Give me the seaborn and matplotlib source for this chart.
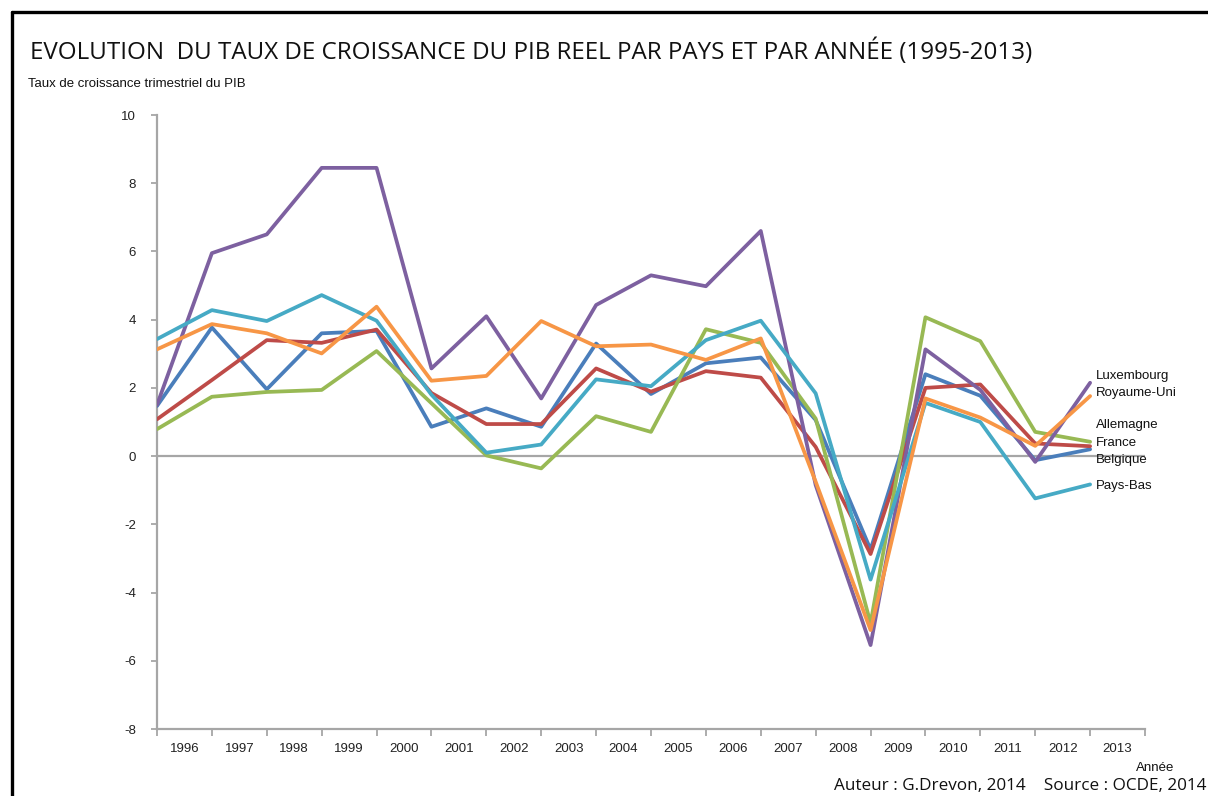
import numpy as np
import pandas as pd
import matplotlib
matplotlib.use('Agg')
import matplotlib.pyplot as plt
from matplotlib.lines import Line2D
from matplotlib.ticker import FixedLocator, NullFormatter
import seaborn as sns

# Données (taux de croissance du PIB, %)
annees = [str(a) for a in range(1996, 2014)]
belgique = [1.47, 3.77, 1.96, 3.6, 3.67, 0.86, 1.4, 0.86, 3.3, 1.82, 2.72, 2.89, 1.06, -2.74, 2.4, 1.77, -0.12, 0.2]
france = [1.08, 2.23, 3.4, 3.32, 3.71, 1.85, 0.94, 0.94, 2.57, 1.89, 2.49, 2.3, 0.27, -2.87, 2.0, 2.1, 0.37, 0.29]
allemagne = [0.79, 1.74, 1.88, 1.94, 3.08, 1.55, 0.02, -0.36, 1.17, 0.71, 3.72, 3.32, 1.1, -4.9, 4.07, 3.37, 0.71, 0.42]
luxembourg = [1.5, 5.95, 6.5, 8.45, 8.45, 2.57, 4.1, 1.69, 4.43, 5.3, 4.98, 6.6, -0.85, -5.54, 3.13, 1.94, -0.17, 2.15]
pays_bas = [3.43, 4.28, 3.96, 4.72, 3.97, 1.8, 0.1, 0.34, 2.25, 2.05, 3.4, 3.97, 1.84, -3.62, 1.56, 1.0, -1.24, -0.83]
royaume_uni = [3.13, 3.87, 3.6, 3.01, 4.38, 2.21, 2.35, 3.96, 3.22, 3.27, 2.82, 3.45, -0.75, -5.1, 1.69, 1.13, 0.3, 1.76]

series = {
    'Belgique': belgique,
    'France': france,
    'Allemagne': allemagne,
    'Luxembourg': luxembourg,
    'Pays-Bas': pays_bas,
    'Royaume-Uni': royaume_uni,
}

couleurs = {
    'Belgique': '#4a7ebb',
    'France': '#be4b48',
    'Allemagne': '#98b954',
    'Luxembourg': '#7d60a0',
    'Pays-Bas': '#46aac5',
    'Royaume-Uni': '#f79646',
}

# position verticale des étiquettes en fin de courbe
etiquettes_y = {
    'Luxembourg': 2.35,
    'Royaume-Uni': 1.85,
    'Allemagne': 0.91,
    'France': 0.38,
    'Belgique': -0.12,
    'Pays-Bas': -0.88,
}

# Tableau long pour seaborn
lignes = []
for pays, valeurs in series.items():
    for i, v in enumerate(valeurs):
        lignes.append({'pos': i, 'taux': v, 'pays': pays})
df = pd.DataFrame(lignes)

sns.set_style('white')
plt.rcParams['font.family'] = ['Liberation Sans', 'DejaVu Sans']

fig = plt.figure(figsize=(12.08, 7.96), dpi=100)
ax = fig.add_axes([157 / 1208, 1 - 729 / 796, (1145 - 157) / 1208, (729 - 115) / 796])

gris = '#a6a6a6'
ax.axhline(0, color=gris, lw=1.6, zorder=1)

sns.lineplot(data=df, x='pos', y='taux', hue='pays', palette=couleurs,
             hue_order=list(series.keys()), lw=2.7, legend=False, ax=ax, zorder=3)

ax.set_xlim(0, len(annees))
ax.set_ylim(-8, 10)
ax.set_yticks(range(-8, 11, 2))
ax.set_yticklabels([str(v) for v in range(-8, 11, 2)], fontsize=9.5, color='#222222')

# ticks majeurs entre les catégories, étiquettes au centre
ax.xaxis.set_major_locator(FixedLocator(np.arange(0, len(annees) + 1)))
ax.xaxis.set_major_formatter(NullFormatter())
ax.xaxis.set_minor_locator(FixedLocator(np.arange(len(annees)) + 0.5))
ax.set_xticklabels(annees, minor=True, fontsize=9.5, color='#222222')
ax.tick_params(axis='x', which='major', length=5, width=1.3, color=gris, direction='out', bottom=True)
ax.tick_params(axis='x', which='minor', length=0, pad=10)
ax.tick_params(axis='y', length=4, width=1.3, color=gris, direction='out', left=True, pad=11)

for s in ['top', 'right']:
    ax.spines[s].set_visible(False)
for s in ['left', 'bottom']:
    ax.spines[s].set_color(gris)
    ax.spines[s].set_linewidth(1.6)

ax.set_xlabel('')
ax.set_ylabel('')

# étiquettes des séries
for pays, y in etiquettes_y.items():
    ax.text(len(annees) - 1 + 0.1, y, pays, fontsize=9.5, color='#111111',
            ha='left', va='center')

# textes de la figure
fig.text(30 / 1208, 1 - 52 / 796,
         'EVOLUTION  DU TAUX DE CROISSANCE DU PIB REEL PAR PAYS ET PAR ANNÉE (1995-2013)',
         fontsize=17.4, family=['Open Sans', 'DejaVu Sans'], ha='left', va='center',
         color='#111111')
fig.text(28 / 1208, 1 - 84 / 796, 'Taux de croissance trimestriel du PIB',
         fontsize=9.5, ha='left', va='center', color='#111111')
fig.text(1155 / 1208, 1 - 768 / 796, 'Année', fontsize=9.5, ha='center', va='center',
         color='#111111')
fig.text(1207 / 1208, 1 - 786 / 796, 'Auteur : G.Drevon, 2014    Source : OCDE, 2014',
         fontsize=12.3, family=['Open Sans', 'DejaVu Sans'], ha='right', va='center',
         color='#111111')

# cadre noir en haut et à gauche
fig.add_artist(Line2D([12 / 1208, 1], [1 - 12 / 796, 1 - 12 / 796],
                      transform=fig.transFigure, color='black', lw=2.4))
fig.add_artist(Line2D([12 / 1208, 12 / 1208], [0, 1 - 12 / 796],
                      transform=fig.transFigure, color='black', lw=2.4))

fig.savefig('out.png', dpi=100)
plt.close(fig)
